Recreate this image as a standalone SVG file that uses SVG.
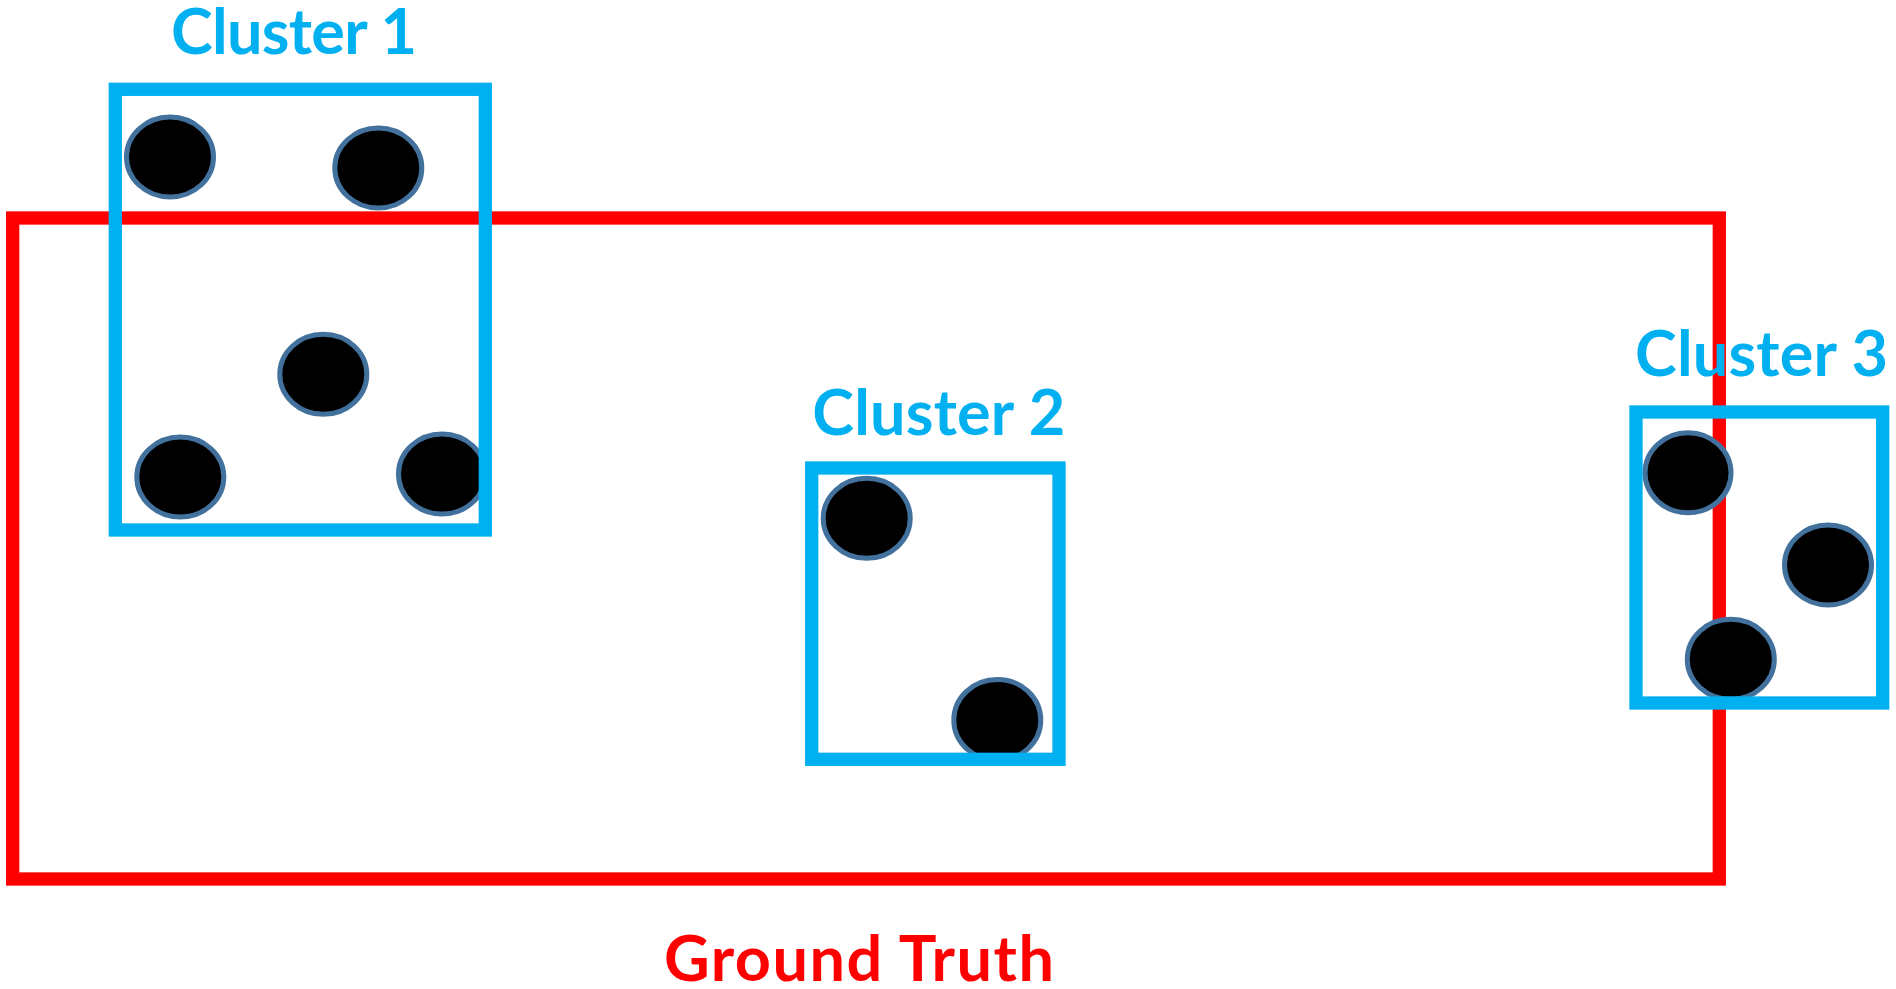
<svg xmlns="http://www.w3.org/2000/svg" width="1896" height="989" viewBox="0 0 1896 989">
<style>
.gt{fill:none;stroke:#FF0000;stroke-width:13.3;stroke-linejoin:miter}
.box{fill:none;stroke:#00B0F0;stroke-width:13.3;stroke-linejoin:miter}
.pt{fill:#000000;stroke:#41719C;stroke-width:5}
.lbl{font-family:Lato,"Liberation Sans",sans-serif;font-weight:bold;font-size:63px}
.blue{fill:#00B0F0}
.red{fill:#FF0000}
</style>
<rect width="1896" height="989" fill="#FFFFFF"/>
<g id="ground-truth-region">
<rect class="gt" x="12.7" y="218" width="1706.6" height="661"/>
</g>
<g id="points">
<ellipse class="pt" cx="170" cy="157" rx="43.5" ry="40"/>
<ellipse class="pt" cx="378.3" cy="168" rx="43.5" ry="40"/>
<ellipse class="pt" cx="323.3" cy="374.3" rx="43.5" ry="40"/>
<ellipse class="pt" cx="180.3" cy="477" rx="43.5" ry="40"/>
<ellipse class="pt" cx="442" cy="474" rx="43.5" ry="40"/>
<ellipse class="pt" cx="866.7" cy="518.3" rx="43.5" ry="40"/>
<ellipse class="pt" cx="997.3" cy="720" rx="43.5" ry="40.5"/>
<ellipse class="pt" cx="1688" cy="472.8" rx="43" ry="40"/>
<ellipse class="pt" cx="1828" cy="565" rx="43.5" ry="40"/>
<ellipse class="pt" cx="1730.8" cy="659.3" rx="43.5" ry="40"/>
</g>
<g id="cluster-1">
<rect class="box" x="115.3" y="89.3" width="370" height="440.7"/>
<text class="lbl blue" x="171" y="53.6" textLength="246" lengthAdjust="spacing">Cluster 1</text>
</g>
<g id="cluster-2">
<rect class="box" x="811.7" y="468" width="247.3" height="291.3"/>
<text class="lbl blue" x="812.3" y="435" textLength="253" lengthAdjust="spacing">Cluster 2</text>
</g>
<g id="cluster-3">
<rect class="box" x="1636" y="412" width="246.7" height="291"/>
<text class="lbl blue" x="1635" y="376" textLength="253" lengthAdjust="spacing">Cluster 3</text>
</g>
<g id="ground-truth-label">
<text class="lbl red" x="664" y="981" textLength="390" lengthAdjust="spacing">Ground Truth</text>
</g>
<g id="connectors"/>
</svg>
